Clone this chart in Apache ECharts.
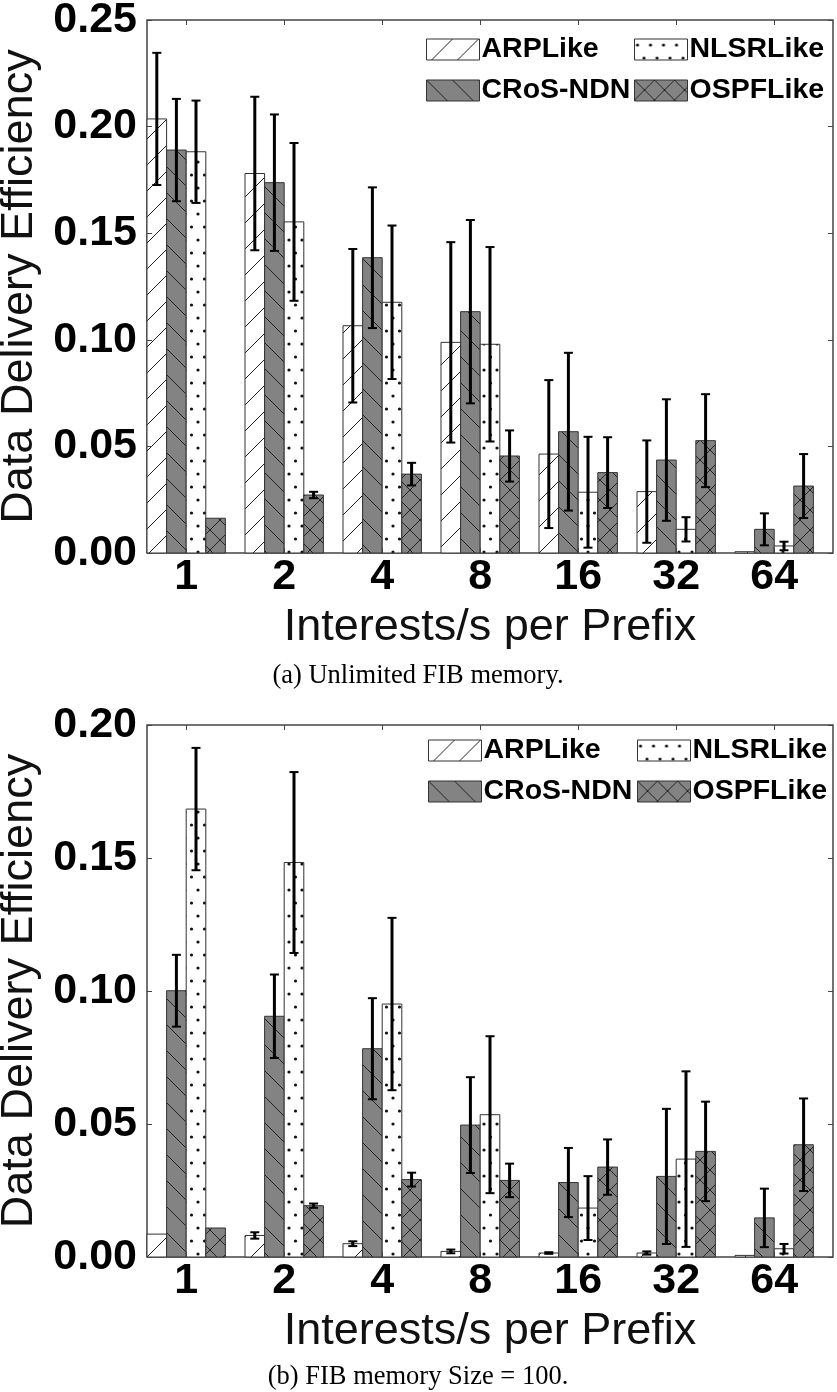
<!DOCTYPE html>
<html>
<head>
<meta charset="utf-8">
<script src="https://cdn.jsdelivr.net/npm/echarts@6/dist/echarts.min.js"></script>
<style>
  html, body { margin: 0; padding: 0; background: #fff; }
  #chart { width: 837px; height: 1392px; }
</style>
</head>
<body>
<div id="chart"></div>
<script>
// 横轴类别
const categories = ['1', '2', '4', '8', '16', '32', '64'];
const seriesNames = ['ARPLike', 'CRoS-NDN', 'NLSRLike', 'OSPFLike'];

// (a) Unlimited FIB memory
const arpA = [0.2036, 0.178, 0.1066, 0.0988, 0.0464, 0.0288, 0.0006];
const arpAErr = [0.031, 0.036, 0.036, 0.047, 0.0347, 0.024, 0];
const crosA = [0.189, 0.1737, 0.1385, 0.1132, 0.0569, 0.0436, 0.0111];
const crosAErr = [0.024, 0.032, 0.033, 0.043, 0.037, 0.0285, 0.0075];
const nlsrA = [0.1882, 0.1553, 0.1176, 0.0979, 0.0285, 0.0111, 0.0033];
const nlsrAErr = [0.024, 0.037, 0.036, 0.0456, 0.026, 0.0057, 0.002];
const ospfA = [0.0163, 0.0272, 0.037, 0.0455, 0.0377, 0.0527, 0.0314];
const ospfAErr = [0, 0.0015, 0.0053, 0.012, 0.0166, 0.0218, 0.015];

// (b) FIB memory Size = 100
const arpB = [0.0086, 0.0081, 0.005, 0.0021, 0.0015, 0.0015, 0.0006];
const arpBErr = [0, 0.0012, 0.0009, 0.0007, 0.0003, 0.0006, 0];
const crosB = [0.1001, 0.0905, 0.0783, 0.0496, 0.028, 0.0303, 0.0147];
const crosBErr = [0.0135, 0.0157, 0.019, 0.018, 0.013, 0.0254, 0.011];
const nlsrB = [0.1684, 0.1483, 0.0951, 0.0535, 0.0184, 0.0368, 0.0031];
const nlsrBErr = [0.023, 0.034, 0.0324, 0.0295, 0.012, 0.033, 0.0018];
const ospfB = [0.0109, 0.0193, 0.0291, 0.0288, 0.0338, 0.0397, 0.0422];
const ospfBErr = [0, 0.0008, 0.0026, 0.0063, 0.0104, 0.0187, 0.0174];

const yTicksA = [0, 0.25, 0.05];
const yTicksB = [0, 0.20, 0.05];

const GRAY = '#838383';
const EDGE = '#333';
const SANS = 'Liberation Sans, Arial, sans-serif';

// 填充图案
const lineTile = (bg, dirs, size) => {
  const c = document.createElement('canvas');
  c.width = size; c.height = size;
  const g = c.getContext('2d');
  g.fillStyle = bg;
  g.fillRect(0, 0, size, size);
  g.strokeStyle = '#222';
  g.lineWidth = 1;
  for (const o of [-size, 0, size]) {
    if (dirs.includes('/')) {
      g.beginPath(); g.moveTo(o, size); g.lineTo(o + size, 0); g.stroke();
    }
    if (dirs.includes('\\')) {
      g.beginPath(); g.moveTo(o, 0); g.lineTo(o + size, size); g.stroke();
    }
  }
  return { image: c, repeat: 'repeat' };
};
const dotTile = () => {
  const c = document.createElement('canvas');
  c.width = 13; c.height = 26;
  const g = c.getContext('2d');
  g.fillStyle = '#fff';
  g.fillRect(0, 0, 13, 26);
  g.fillStyle = '#111';
  [[3, 6], [9.5, 19]].forEach(([x, y]) => {
    g.beginPath(); g.arc(x, y, 1.6, 0, Math.PI * 2); g.fill();
  });
  return { image: c, repeat: 'repeat' };
};

const fills = [
  lineTile('#fff', '/', 26),
  lineTile(GRAY, '\\', 26),
  dotTile(),
  lineTile(GRAY, '/\\', 20),
];

const panels = [
  { top: 20, height: 533, ticks: yTicksA, vals: [arpA, crosA, nlsrA, ospfA], errs: [arpAErr, crosAErr, nlsrAErr, ospfAErr],
    legendTop: 35, legendLeft: [426, 634], caption: '(a) Unlimited FIB memory.', captionTop: 663 },
  { top: 725, height: 532, ticks: yTicksB, vals: [arpB, crosB, nlsrB, ospfB], errs: [arpBErr, crosBErr, nlsrBErr, ospfBErr],
    legendTop: 736, legendLeft: [428, 637], caption: '(b) FIB memory Size = 100.', captionTop: 1364 },
];

const grid = [], xAxis = [], yAxis = [], series = [], legend = [], title = [];
const xCustom = categories.map((_, i) => i);
const tick = () => ({ show: true, inside: true, length: 5, lineStyle: { color: '#444', width: 1 } });
const noLine = { show: false, onZero: false };

panels.forEach((p, pi) => {
  grid.push({
    left: 147, top: p.top, width: 686, height: p.height,
    containLabel: false, outerBoundsMode: 'none',
    show: true, borderColor: '#444', borderWidth: 1.5, backgroundColor: 'transparent',
  });
  xAxis.push({
    type: 'value', gridIndex: pi, min: -0.4, max: 6.6, position: 'bottom', z: 4,
    axisLine: noLine, splitLine: { show: false },
    axisTick: { ...tick(), customValues: xCustom },
    axisLabel: { customValues: xCustom, formatter: v => categories[Math.round(v)], fontSize: 43, fontWeight: 'bold', color: '#000', fontFamily: SANS, margin: 3, lineHeight: 43 },
    name: 'Interests/s per Prefix', nameLocation: 'middle', nameGap: 52,
    nameTextStyle: { fontSize: 45, color: '#111', fontFamily: SANS, lineHeight: 45 },
  });
  xAxis.push({
    type: 'value', gridIndex: pi, min: -0.4, max: 6.6, position: 'top', z: 4,
    axisLine: noLine, splitLine: { show: false },
    axisTick: { ...tick(), customValues: xCustom },
    axisLabel: { show: false },
  });
  yAxis.push({
    type: 'value', gridIndex: pi, min: p.ticks[0], max: p.ticks[1], interval: p.ticks[2], position: 'left', z: 4,
    axisLine: noLine, splitLine: { show: false }, axisTick: tick(),
    axisLabel: { formatter: v => v.toFixed(2), fontSize: 43, fontWeight: 'bold', color: '#000', fontFamily: SANS, margin: 10 },
    name: 'Data Delivery Efficiency', nameLocation: 'middle', nameGap: 105,
    nameTextStyle: { fontSize: 45, color: '#111', fontFamily: SANS, lineHeight: 45 },
  });
  yAxis.push({
    type: 'value', gridIndex: pi, min: p.ticks[0], max: p.ticks[1], interval: p.ticks[2], position: 'right', z: 4,
    axisLine: noLine, splitLine: { show: false }, axisTick: tick(),
    axisLabel: { show: false },
  });

  seriesNames.forEach((name, k) => {
    const off = (k - 1.5) * 0.2;
    series.push({
      type: 'custom', name, xAxisIndex: pi * 2, yAxisIndex: pi * 2, z: 2,
      itemStyle: { color: fills[k], borderColor: EDGE, borderWidth: 1 },
      encode: { x: 0, y: 1 },
      data: p.vals[k].map((v, i) => [i, v]),
      renderItem: (params, api) => {
        const i = api.value(0), v = api.value(1);
        const a = api.coord([i + off - 0.1, v]);
        const b = api.coord([i + off + 0.1, 0]);
        return {
          type: 'rect',
          shape: { x: a[0], y: a[1], width: b[0] - a[0], height: b[1] - a[1] },
          style: { fill: fills[k], stroke: EDGE, lineWidth: 1 },
        };
      },
    });
    series.push({
      type: 'custom', name: name + ' err', xAxisIndex: pi * 2, yAxisIndex: pi * 2, z: 5,
      encode: { x: 0, y: 1 },
      data: p.vals[k].map((v, i) => [i, v, p.errs[k][i]]),
      renderItem: (params, api) => {
        const i = api.value(0), v = api.value(1), e = api.value(2);
        if (!e) return { type: 'group', children: [] };
        const t = api.coord([i + off, v + e]);
        const bt = api.coord([i + off, Math.max(v - e, 0)]);
        const cx = t[0];
        return {
          type: 'group',
          children: [
            { type: 'line', shape: { x1: cx, y1: t[1], x2: cx, y2: bt[1] }, style: { stroke: '#000', lineWidth: 3 } },
            { type: 'line', shape: { x1: cx - 4.5, y1: t[1], x2: cx + 4.5, y2: t[1] }, style: { stroke: '#000', lineWidth: 2 } },
            { type: 'line', shape: { x1: cx - 4.5, y1: bt[1], x2: cx + 4.5, y2: bt[1] }, style: { stroke: '#000', lineWidth: 2 } },
          ],
        };
      },
    });
  });

  // 图例两列
  [[0, 1], [2, 3]].forEach((col, ci) => {
    legend.push({
      orient: 'vertical', left: p.legendLeft[ci], top: p.legendTop, padding: 0,
      itemWidth: 53, itemHeight: 21, itemGap: 12, icon: 'rect', selectedMode: false,
      textStyle: { fontSize: 28.5, fontWeight: 'bold', color: '#000', fontFamily: SANS, lineHeight: 29, padding: [0, 0, 0, -3] },
      data: col.map(k => ({ name: seriesNames[k], itemStyle: { color: fills[k], borderColor: EDGE, borderWidth: 1 } })),
    });
  });

  title.push({
    text: p.caption, left: 418, top: p.captionTop, textAlign: 'center', padding: 0,
    textStyle: { fontSize: 26.5, fontWeight: 'normal', color: '#000', fontFamily: 'Liberation Serif, serif', lineHeight: 27 },
  });
});

const chart = echarts.init(document.getElementById('chart'));
chart.setOption({
  animation: false,
  backgroundColor: '#fff',
  title, grid, xAxis, yAxis, legend, series,
});
</script>
</body>
</html>
